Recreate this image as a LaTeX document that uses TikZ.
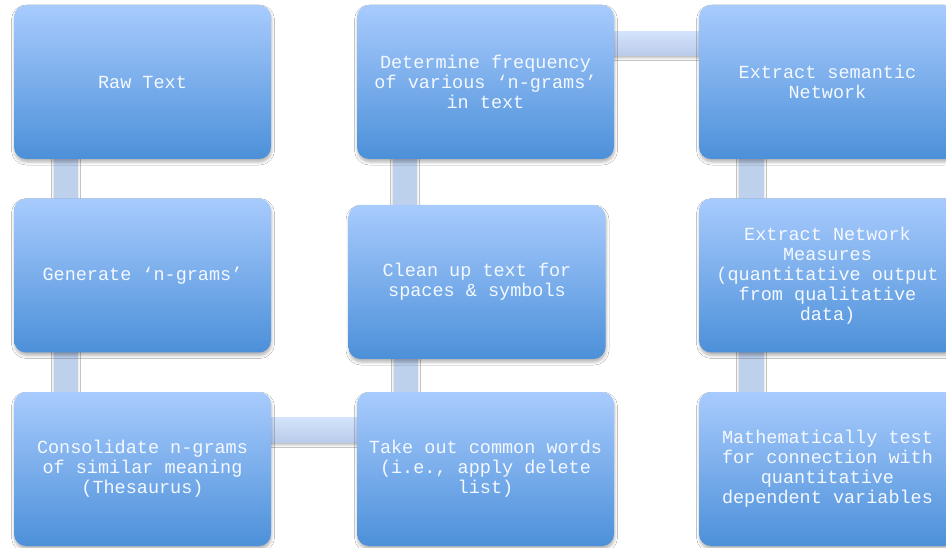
\documentclass[tikz,border=0pt]{standalone}
\usepackage{fontspec}
\setmainfont{Liberation Mono}
\usetikzlibrary{shadows.blur,backgrounds}
\definecolor{boxtop}{HTML}{A8CBFD}
\definecolor{boxbot}{HTML}{4C90D9}
\definecolor{conn}{HTML}{BDD0EC}
\definecolor{conntop}{HTML}{D3E3FB}
\definecolor{connbot}{HTML}{B9CAEA}
\definecolor{boxtext}{HTML}{F4F8FF}
\tikzset{
  stepbox/.style={rounded corners=12pt, minimum width=257pt, minimum height=154pt,
    top color=boxtop, bottom color=boxbot, draw=none, text=boxtext, align=center,
    font=\fontsize{18.5}{20}\selectfont, inner sep=2pt,
    blur shadow={shadow xshift=0.5pt, shadow yshift=-3pt, shadow blur radius=3pt, shadow opacity=30}},
  vconn/.style={fill=conn, draw=none,
    blur shadow={shadow xshift=0pt, shadow yshift=0pt, shadow blur radius=2.5pt, shadow opacity=20}},
  hconn/.style={top color=conntop, bottom color=connbot, draw=none,
    blur shadow={shadow xshift=0pt, shadow yshift=-2pt, shadow blur radius=2.5pt, shadow opacity=30}}
}
\begin{document}
\begin{tikzpicture}[x=1pt,y=-1pt]
\useasboundingbox (0,0) rectangle (946,548);
\node[stepbox] (raw)   at (142.5,82)    {Raw Text};
\node[stepbox] (gen)   at (142.5,275.5) {Generate ‘n-grams’};
\node[stepbox] (cons)  at (142.5,469)   {Consolidate n-grams\\of similar meaning\\(Thesaurus)};
\node[stepbox] (freq)  at (485.5,82)    {Determine frequency\\of various ‘n-grams’\\in text};
\node[stepbox] (clean) at (477,282)     {Clean up text for\\spaces \& symbols};
\node[stepbox] (take)  at (485.5,469)   {Take out common words\\(i.e., apply delete\\list)};
\node[stepbox] (sem)   at (827.5,82)    {Extract semantic\\Network};
\node[stepbox] (meas)  at (827.5,275.5) {Extract Network\\Measures\\(quantitative output\\from qualitative\\data)};
\node[stepbox] (math)  at (827.5,469)   {Mathematically test\\for connection with\\quantitative\\dependent variables};
\begin{pgfonlayer}{background}
  \fill[white] (0,0) rectangle (946,548);
  \path[vconn] ([xshift=40pt,yshift=5pt]raw.south west) rectangle ([xshift=64pt,yshift=-5pt]gen.north west);
  \path[vconn] ([xshift=40pt,yshift=5pt]gen.south west) rectangle ([xshift=64pt,yshift=-5pt]cons.north west);
  \path[vconn] ([xshift=36pt,yshift=5pt]freq.south west) rectangle ([xshift=60pt,yshift=-5pt]freq.south west |- clean.north);
  \path[vconn] ([xshift=37pt,yshift=-5pt]take.north west) rectangle ([xshift=61pt,yshift=5pt]take.north west |- clean.south);
  \path[vconn] ([xshift=40pt,yshift=5pt]sem.south west) rectangle ([xshift=65pt,yshift=-5pt]meas.north west);
  \path[vconn] ([xshift=40pt,yshift=5pt]meas.south west) rectangle ([xshift=65pt,yshift=-5pt]math.north west);
  \path[hconn] ([xshift=-5pt,yshift=-27pt]freq.north east) rectangle ([xshift=5pt,yshift=-51pt]sem.north west);
  \path[hconn] ([xshift=-5pt,yshift=-26pt]cons.north east) rectangle ([xshift=5pt,yshift=-51pt]take.north west);
\end{pgfonlayer}
\end{tikzpicture}
\end{document}
